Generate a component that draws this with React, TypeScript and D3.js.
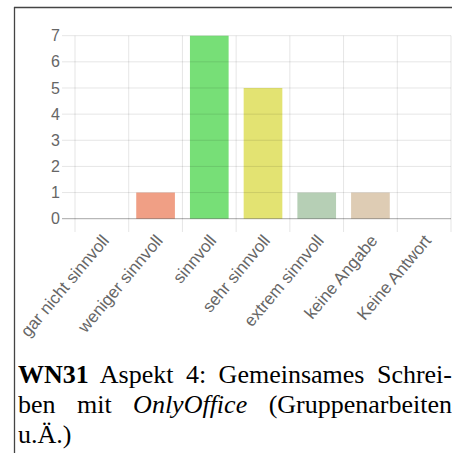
import React from "react";
import * as d3 from "d3";

const categories = [
  "gar nicht sinnvoll",
  "weniger sinnvoll",
  "sinnvoll",
  "sehr sinnvoll",
  "extrem sinnvoll",
  "keine Angabe",
  "Keine Antwort",
];
const values = [0, 1, 7, 5, 1, 1, 0];
const barColors = ["#F09F85", "#F09F85", "#77DF77", "#E3E372", "#B6CFB5", "#DECCB4", "#DECCB4"];
const yTicks = [0, 1, 2, 3, 4, 5, 6, 7];

const W = 452;
const H = 453;
const left = 75;
const right = 451;
const top = 35.7;
const bottom = 218.7;

export default function App() {
  const x = d3.scaleBand<string>().domain(categories).range([left, right]).padding(0);
  const y = d3.scaleLinear().domain([0, 7]).range([bottom, top]);
  const bw = x.bandwidth();
  const barW = bw * 0.72;
  const vLines = categories.map((c) => x(c) as number).concat([right]);

  return (
    <svg width={W} height={H} style={{ position: "absolute", left: 0, top: 0 }}>
      <rect x={0} y={0} width={W} height={H} fill="#fff" />
      {/* frame */}
      <line x1={14.5} y1={7} x2={14.5} y2={H} stroke="#444" strokeWidth={1.3} />
      <line x1={14} y1={7.5} x2={W} y2={7.5} stroke="#444" strokeWidth={1.3} />
      {/* bars */}
      {categories.map((c, i) =>
        values[i] > 0 ? (
          <rect
            key={c}
            x={(x(c) as number) + (bw - barW) / 2}
            y={y(values[i])}
            width={barW}
            height={bottom - y(values[i])}
            fill={barColors[i]}
          />
        ) : null
      )}
      {/* horizontal grid */}
      {yTicks.map((t) => (
        <line
          key={"h" + t}
          x1={62}
          x2={right}
          y1={y(t)}
          y2={y(t)}
          stroke={t === 0 ? "rgba(0,0,0,0.35)" : "rgba(0,0,0,0.1)"}
          strokeWidth={1}
        />
      ))}
      {/* vertical grid */}
      {vLines.map((vx, i) => (
        <line key={"v" + i} x1={vx} x2={vx} y1={top} y2={232} stroke="rgba(0,0,0,0.1)" strokeWidth={1} />
      ))}
      {/* y labels */}
      {yTicks.map((t) => (
        <text
          key={"yl" + t}
          x={60}
          y={y(t)}
          dy="0.35em"
          textAnchor="end"
          fontFamily="Liberation Sans, Arial, sans-serif"
          fontSize={16}
          fill="#666"
        >
          {t}
        </text>
      ))}
      {/* x labels */}
      {categories.map((c) => {
        const cx = (x(c) as number) + bw / 2 + 8;
        const cy = 241;
        return (
          <text
            key={"xl" + c}
            x={cx}
            y={cy}
            textAnchor="end"
            transform={`rotate(-50 ${cx} ${cy})`}
            fontFamily="Liberation Sans, Arial, sans-serif"
            fontSize={17}
            fill="#666"
          >
            {c}
          </text>
        );
      })}
      {/* caption */}
      <foreignObject x={18} y={360} width={W - 18} height={93}>
        <div
          style={{
            fontFamily: "'Liberation Serif', 'Times New Roman', serif",
            fontSize: "26px",
            lineHeight: "30px",
            color: "#000",
            margin: 0,
          }}
        >
          <div style={{ textAlign: "justify", textAlignLast: "justify", whiteSpace: "nowrap" }}>
            <b>WN31</b> Aspekt 4: Gemeinsames Schrei-
          </div>
          <div style={{ textAlign: "justify", textAlignLast: "justify", whiteSpace: "nowrap" }}>
            ben mit <i>OnlyOffice</i> (Gruppenarbeiten
          </div>
          <div style={{ textAlign: "left", whiteSpace: "nowrap" }}>u.Ä.)</div>
        </div>
      </foreignObject>
    </svg>
  );
}
